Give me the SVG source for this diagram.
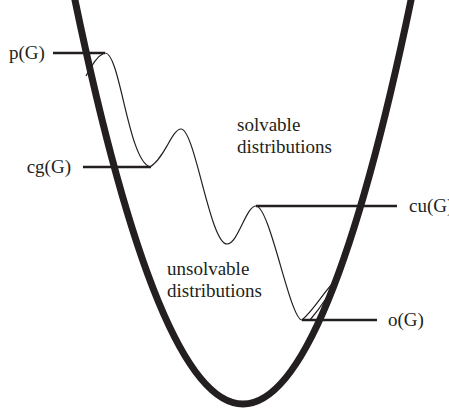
<svg xmlns="http://www.w3.org/2000/svg" width="449" height="414" viewBox="0 0 449 414">
<style>
text{font-family:"Liberation Serif","Times New Roman",serif;font-size:19px;fill:#231f20}
.thin{fill:none;stroke:#231f20;stroke-width:1.2;stroke-linejoin:round}
.lvl{stroke:#231f20;stroke-width:2.4;fill:none}
.bowl{fill:none;stroke:#231f20;stroke-width:7}
</style>
<rect width="449" height="414" fill="#fff"/>
<g id="connectors">
<path id="landscape" class="thin" d="M105,53 C120,52 128,160 150,167 C165,158 172,129 181,129 C195,129 210,244 227,244 C238,244 246,206 256,206 C270,206 290,320 302,320"/>
<path id="p-bump" class="thin" d="M104,53 C98,56 92,64 86,76"/>
<path id="o-bump" class="thin" d="M302,320 C316,308 326,288 337,279 C331,292 320,308 310,320"/>
</g>
<g id="level-p"><line class="lvl" x1="53" y1="53" x2="105" y2="53"/><text x="9" y="59">p(G)</text></g>
<g id="level-cg"><line class="lvl" x1="83" y1="167" x2="151" y2="167"/><text x="71" y="173" text-anchor="end">cg(G)</text></g>
<g id="level-cu"><line class="lvl" x1="256" y1="206" x2="397" y2="206"/><text x="409" y="212">cu(G)</text></g>
<g id="level-o"><line class="lvl" x1="302" y1="320" x2="377" y2="320"/><text x="388" y="326">o(G)</text></g>
<g id="bowl"><path class="bowl" d="M73.3,-8 Q243,816 412.7,-8"/></g>
<g id="region-solvable"><text x="237" y="131">solvable</text><text x="237" y="153">distributions</text></g>
<g id="region-unsolvable"><text x="167" y="275">unsolvable</text><text x="167" y="297">distributions</text></g>
</svg>
